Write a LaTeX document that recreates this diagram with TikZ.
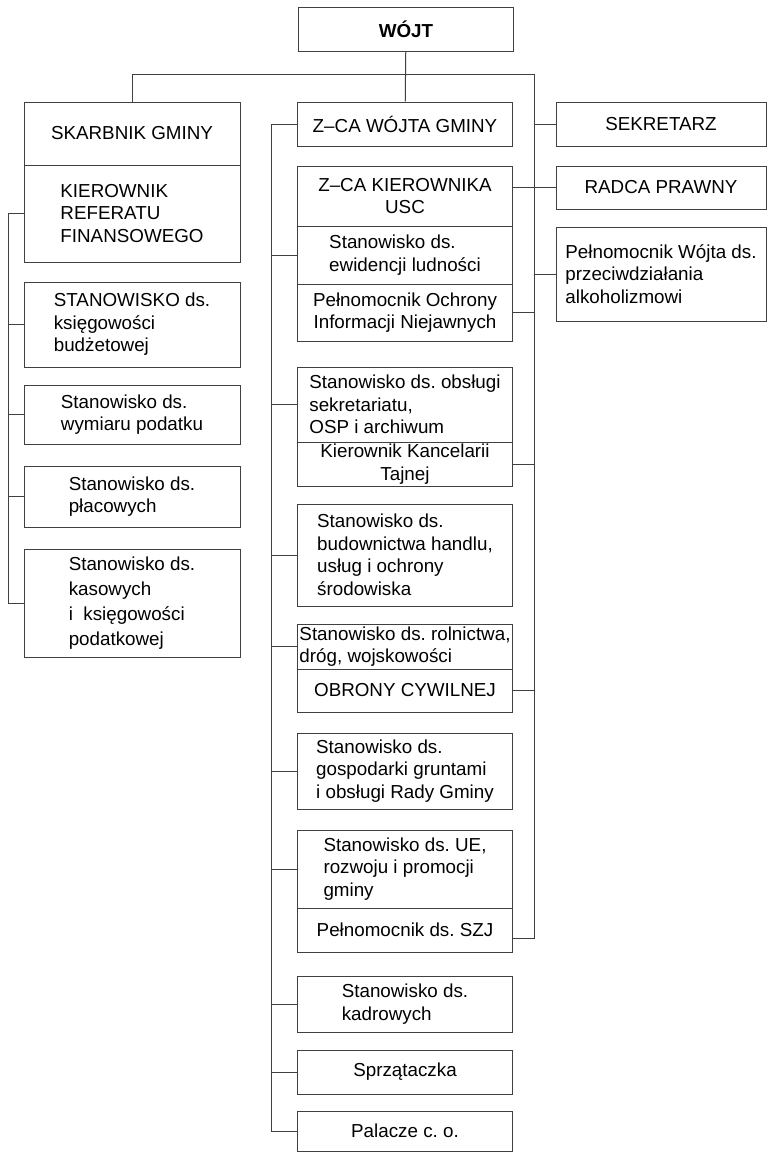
\documentclass[tikz,border=0pt]{standalone}
\usepackage{fontspec}
\setmainfont{Liberation Sans}
\frenchspacing
\begin{document}
\begin{tikzpicture}[x=1pt,y=-1pt,
    box/.style={draw=black!75, line width=1pt, inner sep=0pt, align=center,
      font=\fontsize{18.8}{22.5}\selectfont}]
  \useasboundingbox (0,0) rectangle (768,1152);

      % left column
      \begin{scope}[every node/.style={box, minimum width=216}]
        \node[minimum height=63]  (skarb)  at (132,133.5) {SKARBNIK GMINY};
        \node[minimum height=97, align=left]  (kier)   at (132,213.5) {KIEROWNIK\\REFERATU\\FINANSOWEGO};
        \node[minimum height=85, align=left]  (ksieg)  at (132,324.5) {STANOWISKO ds.\\księgowości\\budżetowej};
        \node[minimum height=59, align=left]  (wymiar) at (132,414.5) {Stanowisko ds.\\wymiaru podatku};
        \node[minimum height=61, align=left]  (placa)  at (132,496.5) {Stanowisko ds.\\płacowych};
        \node[minimum height=108, align=left, font=\fontsize{18.8}{25}\selectfont] (kas) at (132,603) {Stanowisko ds.\\kasowych\\i\ \ księgowości\\podatkowej};
      \end{scope}

      % middle column
      \begin{scope}[every node/.style={box, minimum width=215}]
        \node[minimum height=44]  (wojt)   at (406,29)    {\textbf{WÓJT}};
        \node[minimum height=44]  (zwojta) at (405,124)   {Z–CA WÓJTA GMINY};
        \node[minimum height=60]  (zkier)  at (405,196)   {Z–CA KIEROWNIKA\\USC};
        \node[minimum height=58, align=left]  (ewid)   at (405,255)   {Stanowisko ds.\\ewidencji ludności};
        \node[minimum height=57]  (ochr)   at (405,312.5) {Pełnomocnik Ochrony\\Informacji Niejawnych};
        \node[minimum height=75, align=left]  (obsl)   at (405,404.5) {Stanowisko ds. obsługi\\sekretariatu,\\OSP i archiwum};
        \node[minimum height=44]  (kanc)   at (405,464)   {Kierownik Kancelarii\\Tajnej};
        \node[minimum height=102, align=left] (budow)  at (405,555)   {Stanowisko ds.\\budownictwa handlu,\\usług i ochrony\\środowiska};
        \node[minimum height=45, align=left]  (roln)   at (405,646.5) {Stanowisko ds. rolnictwa,\\dróg, wojskowości};
        \node[minimum height=43]  (obrony) at (405,690.5) {OBRONY CYWILNEJ};
        \node[minimum height=76, align=left]  (gosp)   at (405,771)   {Stanowisko ds.\\gospodarki gruntami\\i obsługi Rady Gminy};
        \node[minimum height=78, align=left]  (ue)     at (405,869)   {Stanowisko ds. UE,\\rozwoju i promocji\\gminy};
        \node[minimum height=44]  (szj)    at (405,930)   {Pełnomocnik ds. SZJ};
        \node[minimum height=56, align=left]  (kadr)   at (405,1004)  {Stanowisko ds.\\kadrowych};
        \node[minimum height=44]  (sprz)   at (405,1072)  {Sprzątaczka};
        \node[minimum height=40]  (pal)    at (405,1131)  {Palacze c. o.};
      \end{scope}

      % right column
      \begin{scope}[every node/.style={box, minimum width=210}]
        \node[minimum height=44]  (sekr)  at (661,124)   {SEKRETARZ};
        \node[minimum height=43]  (radca) at (661,187.5) {RADCA PRAWNY};
        \node[minimum height=94, align=left]  (pelw)  at (661,274)   {Pełnomocnik Wójta ds.\\przeciwdziałania\\alkoholizmowi};
      \end{scope}

      \coordinate (rtop) at (534,74);
      \coordinate (rbot) at (534,938);
      \coordinate (mx)   at (271,0);
      \coordinate (lx)   at (8,0);

      \begin{scope}[draw=black!75, line width=1pt]
        \draw (wojt) -- (zwojta);
        \draw (skarb.north) |- (rtop) -- (rbot) -- (szj.east |- rbot);
        \draw (zwojta.west) -| (mx |- pal.west) -- (pal.west);
        \draw (kier.west) -| (lx |- kas.west) -- (kas.west);

        \begin{scope}[every edge/.style={draw}]
          \path (sekr.west)   edge (sekr.west -| rtop);
          \path (radca.west -| zkier.east) edge (radca.west);
          \path (pelw.west)   edge (pelw.west -| rtop);
          \path (ochr.east)   edge (ochr.east -| rtop);
          \path (kanc.east)   edge (kanc.east -| rtop);
          \path (obrony.east) edge (obrony.east -| rtop);
          \path (ewid.west)   edge (ewid.west -| mx);
          \path (obsl.west)   edge (obsl.west -| mx);
          \path (budow.west)  edge (budow.west -| mx);
          \path (roln.west)   edge (roln.west -| mx);
          \path (gosp.west)   edge (gosp.west -| mx);
          \path (ue.west)     edge (ue.west -| mx);
          \path (kadr.west)   edge (kadr.west -| mx);
          \path (sprz.west)   edge (sprz.west -| mx);
          \path (ksieg.west)  edge (ksieg.west -| lx);
          \path (wymiar.west) edge (wymiar.west -| lx);
          \path (placa.west)  edge (placa.west -| lx);
        \end{scope}
      \end{scope}

    \end{tikzpicture}
\end{document}
